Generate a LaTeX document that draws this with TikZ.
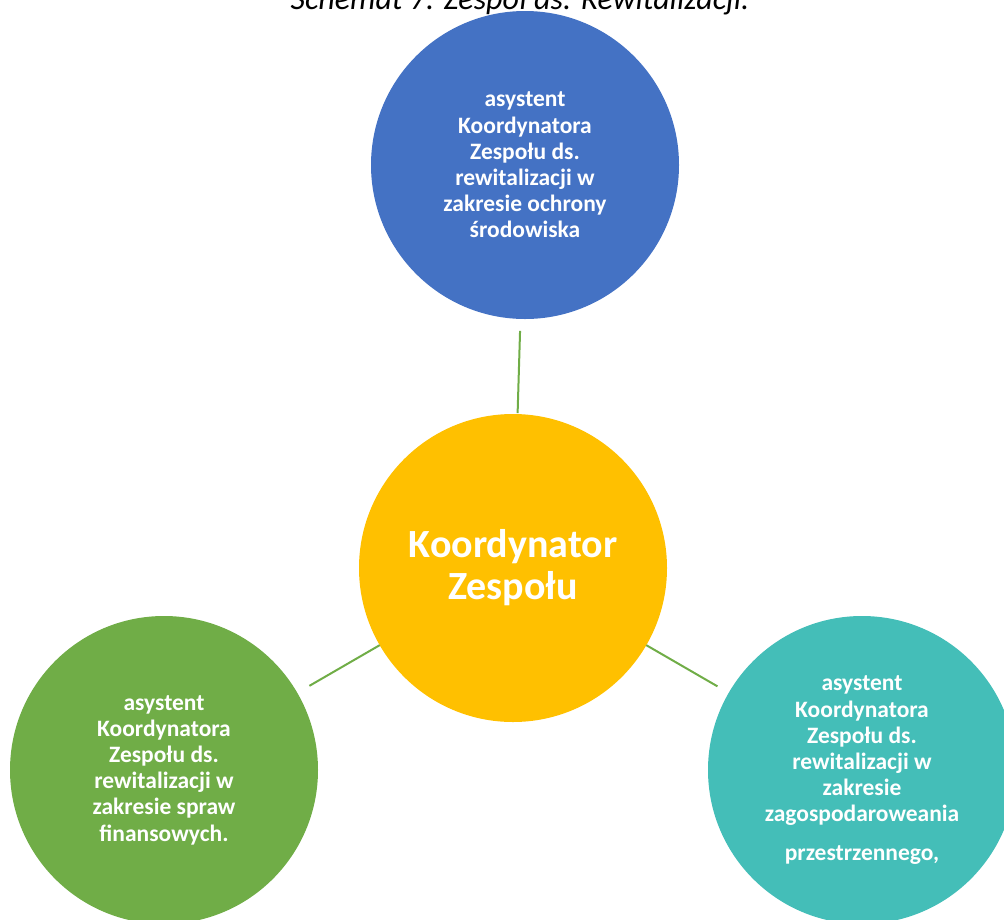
\documentclass[tikz,border=0pt]{standalone}
\usepackage{fontspec}
\setmainfont{Carlito}
\definecolor{cblue}{HTML}{4472C4}
\definecolor{cyellow}{HTML}{FFC000}
\definecolor{cgreen}{HTML}{70AD47}
\definecolor{cteal}{HTML}{44BEB8}
\begin{document}
\begin{tikzpicture}[x=1pt,y=-1pt,
  bubble/.style={circle,minimum size=308pt,inner sep=0pt,outer sep=0pt,text=white,
    font=\fontsize{23.5}{26.2}\selectfont\bfseries,align=center},
  link/.style={draw=cgreen,line width=2pt}]
\useasboundingbox (0,0) rectangle (1004,919);
\node[anchor=base,font=\fontsize{32}{36}\selectfont\itshape] (title) at (520,9) {Schemat 7. Zespół ds. Rewitalizacji.};
\node[bubble,fill=cblue] (top) at (525,165) {asystent\\Koordynatora\\Zespołu ds.\\rewitalizacji w\\zakresie ochrony\\środowiska};
\node[bubble,fill=cyellow,font=\fontsize{40}{42}\selectfont\bfseries] (mid) at (513,568) {Koordynator\\Zespołu};
\node[bubble,fill=cgreen] (left) at (164,770) {asystent\\Koordynatora\\Zespołu ds.\\rewitalizacji w\\zakresie spraw\\finansowych.};
\node[bubble,fill=cteal] (right) at (862,770) {asystent\\Koordynatora\\Zespołu ds.\\rewitalizacji w\\zakresie\\zagospodaroweania\\[12pt]przestrzennego,};
\draw[link,shorten <=12pt,shorten >=1pt] (top) -- (mid);
\draw[link,shorten <=14pt] (left) -- (mid);
\draw[link,shorten <=13pt] (right) -- (mid);
\end{tikzpicture}
\end{document}
